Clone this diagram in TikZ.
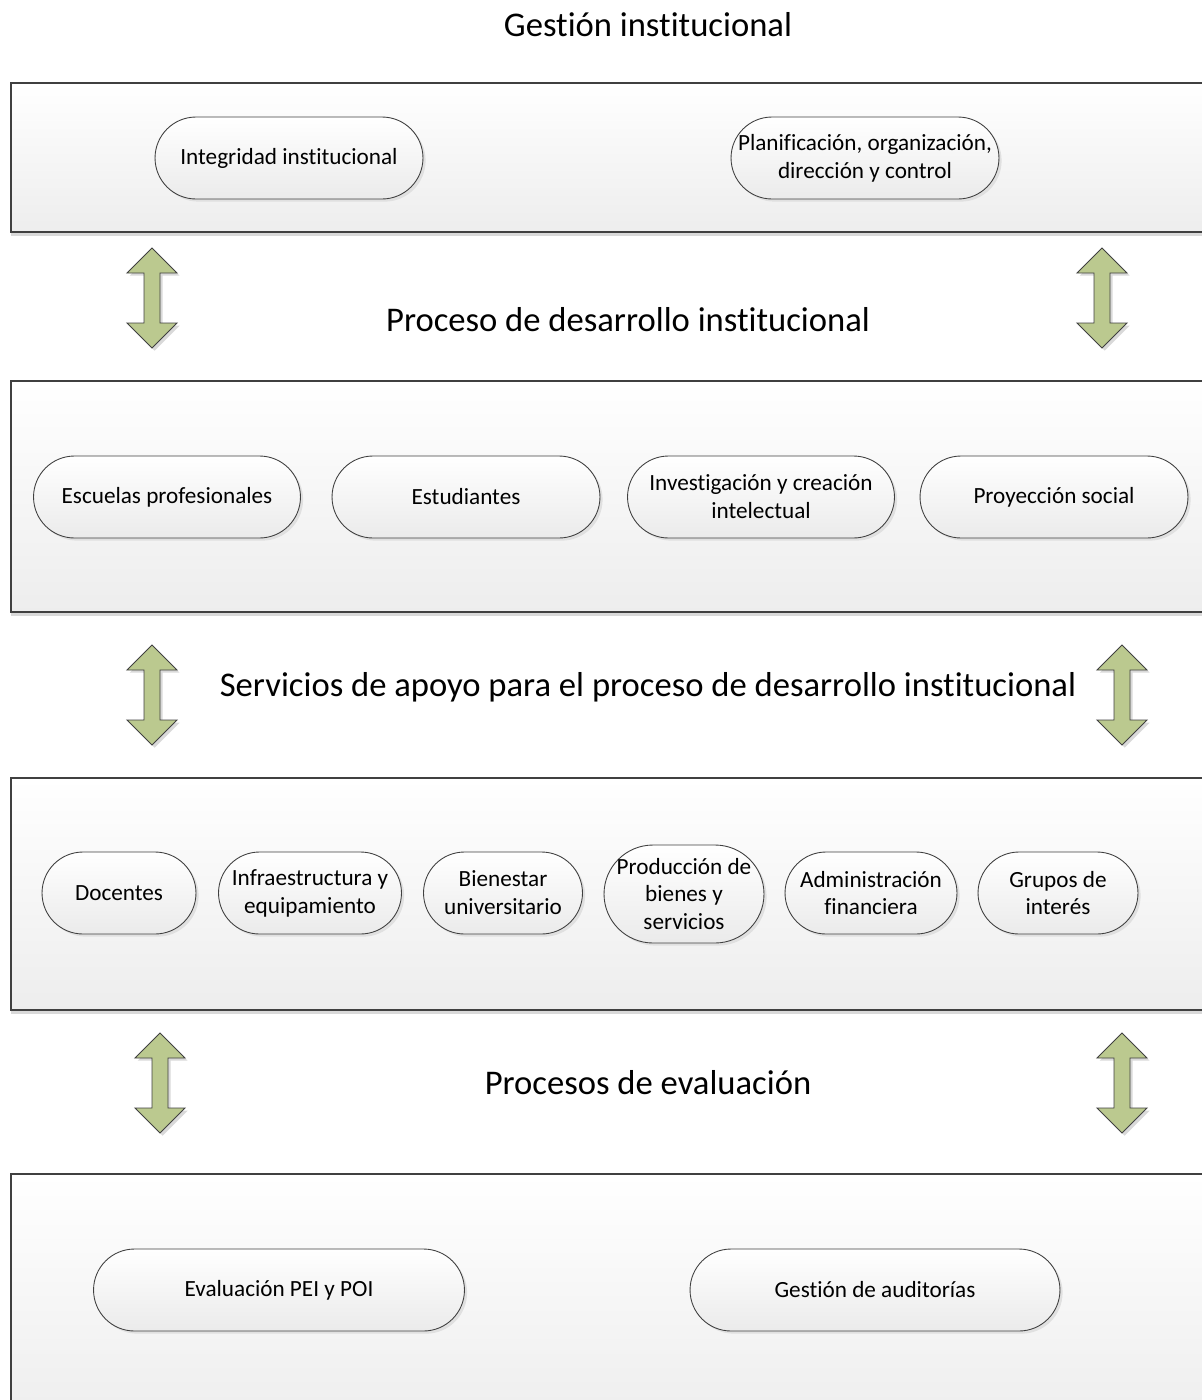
\documentclass[tikz,border=0pt]{standalone}
\usepackage{fontspec}
\setmainfont{Carlito}[Ligatures={NoCommon,NoContextual}]
\usetikzlibrary{shadows}
\definecolor{arrowgreen}{RGB}{187,201,143}
\definecolor{linegray}{RGB}{64,64,64}
\tikzset{
  band/.style={draw=linegray, line width=0.6pt, top color=white, bottom color=black!7,
    drop shadow={shadow xshift=0pt, shadow yshift=-2.5pt, fill=black!15, opacity=1}},
  pill/.style={draw=linegray, line width=0.5pt, rounded corners=0.82cm, top color=white,
    bottom color=black!8, align=center, inner sep=0pt, minimum height=1.64cm,
    font=\fontsize{13.2}{15.9}\selectfont,
    drop shadow={shadow xshift=1.5pt, shadow yshift=-1.5pt, fill=black!12, opacity=1}},
  heading/.style={font=\fontsize{19.7}{23}\selectfont, inner sep=0pt},
  updown/.pic={
    \filldraw[fill=arrowgreen, draw=linegray, line width=0.5pt,
      drop shadow={shadow xshift=1.5pt, shadow yshift=-1.5pt, fill=black!15, opacity=1}]
      (0,-50) -- (25,-25) -- (8,-25) -- (8,25) -- (25,25) -- (0,50)
      -- (-25,25) -- (-8,25) -- (-8,-25) -- (-25,-25) -- cycle;
  }
}
\begin{document}
\begin{tikzpicture}[x=0.02cm, y=-0.02cm]
  \useasboundingbox (0,0) rectangle (1202,1400);
  % bands
  \draw[band] (11,83) rectangle (1220,232);
  \draw[band] (11,381) rectangle (1220,612);
  \draw[band] (11,778) rectangle (1220,1010);
  \draw[band] (11,1174) rectangle (1220,1430);

  % headings
  \node[heading] (gestion) at (648,25) {Gestión institucional};
  \node[heading] (desarrollo) at (628,320) {Proceso de desarrollo institucional};
  \node[heading] (servicios) at (648,687) {Servicios de apoyo para el proceso de desarrollo institucional};
  \node[heading] (evaluacion) at (648,1083) {Procesos de evaluación};

  % double arrows
  \pic (arrowA) at (152,298) {updown};
  \pic (arrowB) at (1102,298) {updown};
  \pic (arrowC) at (152,695) {updown};
  \pic (arrowD) at (1122,695) {updown};
  \pic (arrowE) at (160,1083) {updown};
  \pic (arrowF) at (1122,1083) {updown};

  % gestion institucional
  \node[pill, minimum width=5.36cm] (integridad) at (289,158) {Integridad institucional};
  \node[pill, minimum width=5.36cm] (planificacion) at (865,158) {Planificación, organización,\\dirección y control};

  % proceso de desarrollo
  \node[pill, minimum width=5.34cm] (escuelas) at (167,497) {Escuelas profesionales};
  \node[pill, minimum width=5.36cm] (estudiantes) at (466,497) {Estudiantes};
  \node[pill, minimum width=5.34cm] (investigacion) at (761,497) {Investigación y creación\\intelectual};
  \node[pill, minimum width=5.36cm] (proyeccion) at (1054,497) {Proyección social};

  % servicios de apoyo
  \node[pill, minimum width=3.08cm] (docentes) at (119,893) {Docentes};
  \node[pill, minimum width=3.66cm] (infraestructura) at (310,893) {Infraestructura y\\equipamiento};
  \node[pill, minimum width=3.18cm] (bienestar) at (503,893) {Bienestar\\universitario};
  \node[pill, minimum width=3.2cm, minimum height=1.96cm, rounded corners=0.98cm] (produccion) at (684,894) {Producción de\\bienes y\\servicios};
  \node[pill, minimum width=3.44cm] (administracion) at (871,893) {Administración\\financiera};
  \node[pill, minimum width=3.2cm] (grupos) at (1058,893) {Grupos de\\interés};

  % evaluacion
  \node[pill, minimum width=7.42cm] (evalpei) at (279,1290) {Evaluación PEI y POI};
  \node[pill, minimum width=7.4cm] (auditorias) at (875,1290) {Gestión de auditorías};
\end{tikzpicture}
\end{document}
